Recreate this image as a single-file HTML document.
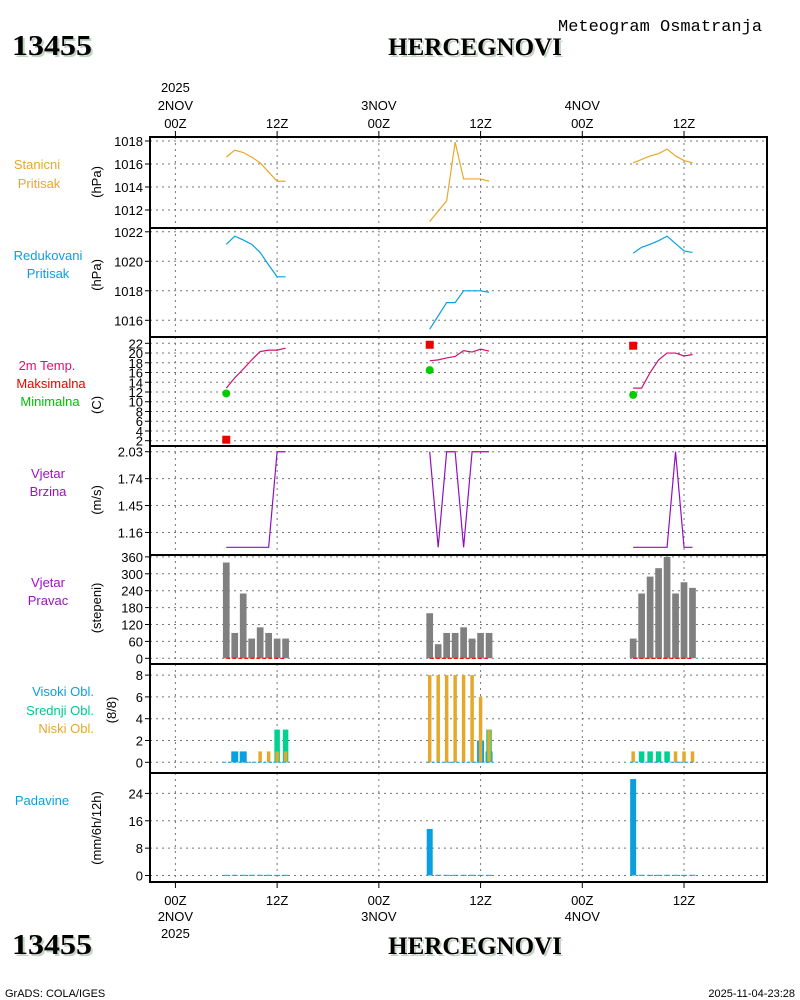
<!DOCTYPE html>
<html><head><meta charset="utf-8"><style>
html,body{margin:0;padding:0;background:#fff;}
svg{display:block;font-family:"Liberation Sans",sans-serif;}
.t{font-size:13px;fill:#000;}
</style></head><body>
<svg id="chart" width="800" height="1000" viewBox="0 0 800 1000">
<rect x="0" y="0" width="800" height="1000" fill="#fff"/>
<text x="558" y="31" font-size="17" style="font-family:'Liberation Mono',monospace">Meteogram Osmatranja</text>
<g font-family="Liberation Serif,serif" font-weight="bold" font-size="28">
<text x="14" y="57" fill="#c4d4c4" textLength="80" lengthAdjust="spacingAndGlyphs">13455</text><text x="12" y="55" fill="#000" textLength="80" lengthAdjust="spacingAndGlyphs">13455</text></g>
<g font-family="Liberation Serif,serif" font-weight="bold" font-size="25">
<text x="477" y="57" text-anchor="middle" fill="#c4d4c4">HERCEGNOVI</text><text x="475" y="55" text-anchor="middle" fill="#000">HERCEGNOVI</text></g>
<g font-family="Liberation Serif,serif" font-weight="bold" font-size="28">
<text x="14" y="956" fill="#c4d4c4" textLength="80" lengthAdjust="spacingAndGlyphs">13455</text><text x="12" y="954" fill="#000" textLength="80" lengthAdjust="spacingAndGlyphs">13455</text></g>
<g font-family="Liberation Serif,serif" font-weight="bold" font-size="25">
<text x="477" y="956" text-anchor="middle" fill="#c4d4c4">HERCEGNOVI</text><text x="475" y="954" text-anchor="middle" fill="#000">HERCEGNOVI</text></g>
<text x="5" y="997" font-size="11">GrADS: COLA/IGES</text>
<text x="795" y="997" font-size="11" text-anchor="end">2025-11-04-23:28</text>
<g id="layer"></g>
</svg>
<script>
// ---- data ----
const hoursG1 = [6,7,8,9,10,11,12,13];
const hoursG2 = [30,31,32,33,34,35,36,37];
const hoursG3 = [54,55,56,57,58,59,60,61];
const stationP1 = [1016.6,1017.2,1017.0,1016.6,1016.1,1015.3,1014.5,1014.5];
const stationP2 = [1011.0,1011.9,1012.8,1017.9,1014.7,1014.7,1014.7,1014.5];
const stationP3 = [1016.1,1016.4,1016.7,1016.9,1017.3,1016.7,1016.3,1016.1];
const seaP1 = [1021.15,1021.7,1021.45,1021.15,1020.6,1019.75,1018.95,1018.95];
const seaP2 = [1015.4,1016.3,1017.2,1017.2,1018.0,1018.0,1018.0,1017.9];
const seaP3 = [1020.55,1020.95,1021.15,1021.4,1021.7,1021.2,1020.7,1020.6];
const temp1 = [12.8,14.9,16.7,18.6,20.3,20.6,20.6,21.0];
const temp2 = [18.4,18.6,19.0,19.3,20.5,20.2,20.8,20.4];
const temp3 = [12.8,12.8,16.0,18.6,20.0,20.0,19.4,19.7];
const tmaxHours = [6,30,54];
const tmaxValues = [2.2,21.7,21.5];
const tminValues = [11.7,16.5,11.4];
const wspd1 = [1,1,1,1,1,1,2.03,2.03];
const wspd2 = [2.03,1,2.03,2.03,1,2.03,2.03,2.03];
const wspd3 = [1,1,1,1,1,2.03,1,1];
const wdir1 = [340,90,230,70,110,90,70,70];
const wdir2 = [160,50,90,90,110,70,90,90];
const wdir3 = [70,230,290,320,360,230,270,250];
const cloudHigh1 = [0,1,1,0,0,0,0,0];
const cloudMid1 = [0,0,0,0,0,0,3,3];
const cloudLow1 = [0,0,0,0,1,1,1,1];
const cloudHigh2 = [0,0,0,0,0,0,2,1];
const cloudMid2 = [0,0,0,0,0,0,0,3];
const cloudLow2 = [8,8,8,8,8,8,6,3];
const cloudHigh3 = [0,0,0,0,0,0,0,0];
const cloudMid3 = [0,1,1,1,1,0,0,0];
const cloudLow3 = [1,0,0,0,0,1,1,1];
const precip1 = [0.2,0.2,0.2,0.2,0.2,0.2,0.2,0.2];
const precip2 = [13.6,0.2,0.2,0.2,0.2,0.2,0.2,0.2];
const precip3 = [28.2,0.2,0.2,0.2,0.2,0.2,0.2,0.2];
const ticksP1 = [1012,1014,1016,1018];
const ticksP2 = [1016,1018,1020,1022];
const ticksT = [2,4,6,8,10,12,14,16,18,20,22];
const ticksW = [1.16,1.45,1.74,2.03];
const ticksD = [0,60,120,180,240,300,360];
const ticksC = [0,2,4,6,8];
const ticksR = [0,8,16,24];
const timeTicks = [0,12,24,36,48,60];
const timeLabels = ["00Z","12Z","00Z","12Z","00Z","12Z"];
const dayLabels = ["2NOV","","3NOV","","4NOV",""];

// ---- scales ----
const X0 = 150, X1 = 767;
function xs(t){ return 175.4 + t*8.477; }
const panels = [
 {top:137,bot:228,y:v=>141+(1018-v)*11.5},
 {top:228,bot:337,y:v=>261.3+(1020-v)*14.75},
 {top:337,bot:446,y:v=>343.3+(22-v)*4.87},
 {top:446,bot:555,y:v=>547.3-(v-1)*92.8},
 {top:555,bot:664,y:v=>658.3-v*0.2817},
 {top:664,bot:773,y:v=>762.3-v*10.9},
 {top:773,bot:882,y:v=>875.5-v*3.42}
];
const NS="http://www.w3.org/2000/svg";
const layer=document.getElementById('layer');
function mk(tag,attrs,parent){const e=document.createElementNS(NS,tag);for(const k in attrs)e.setAttribute(k,attrs[k]);(parent||layer).appendChild(e);return e;}

const tickSets=[ticksP1,ticksP2,ticksT,ticksW,ticksD,ticksC,ticksR];
const tickFmt=[v=>v,v=>v,v=>v,v=>v.toFixed(2),v=>v,v=>v,v=>v];
const names=['station-pressure','sea-level-pressure','temperature','wind-speed','wind-direction','cloud-cover','precipitation'];
panels.forEach((p,i)=>{
  const g=mk('g',{});
  
  
  p.g=g;
  timeTicks.forEach(t=>{
    const l=mk('line',{x1:xs(t),x2:xs(t),y1:p.top,y2:p.bot,stroke:'#777','stroke-dasharray':'2,4','stroke-width':1},g);
    
    
  });
  tickSets[i].forEach(v=>{
    const y=p.y(v);
    const l=mk('line',{x1:X0,x2:X1,y1:y,y2:y,stroke:'#777','stroke-dasharray':'2,4','stroke-width':1},g);
    
    
    mk('line',{x1:X0-5,x2:X0,y1:y,y2:y,stroke:'#000'},g);
    const tx=mk('text',{x:X0-7,y:y+5,'text-anchor':'end','class':'t'},g);
    tx.textContent=tickFmt[i](v);
    
    
  });
});
// time axis labels
timeTicks.forEach((t,i)=>{
  const x=xs(t);
  mk('line',{x1:x,x2:x,y1:131,y2:137,stroke:'#000'});
  mk('line',{x1:x,x2:x,y1:882,y2:888,stroke:'#000'});
  const a=mk('text',{x:x,y:128,'text-anchor':'middle','class':'t'});a.textContent=timeLabels[i];
  
  
  const b=mk('text',{x:x,y:905,'text-anchor':'middle','class':'t'});b.textContent=timeLabels[i];
  
  
  if(dayLabels[i]){
    const c=mk('text',{x:x,y:110,'text-anchor':'middle','class':'t'});c.textContent=dayLabels[i];
    
    
    const d=mk('text',{x:x,y:921,'text-anchor':'middle','class':'t'});d.textContent=dayLabels[i];
    
    
  }
});
const y1=mk('text',{x:xs(0),y:92,'text-anchor':'middle','class':'t'});y1.textContent='2025';


const y2=mk('text',{x:xs(0),y:938,'text-anchor':'middle','class':'t'});y2.textContent='2025';



// left labels
const leftLabels=[
 ['Stanicni',37,169,'#e6a82a','middle'],['Pritisak',39,188,'#e6a82a','middle'],
 ['Redukovani',48,260,'#0aa0e0','middle'],['Pritisak',48,278,'#0aa0e0','middle'],
 ['2m Temp.',47,370,'#e0106a','middle'],['Maksimalna',51,388,'#ee0000','middle'],['Minimalna',50,406,'#00c000','middle'],
 ['Vjetar',48,478,'#a010c0','middle'],['Brzina',48,496,'#a010c0','middle'],
 ['Vjetar',48,587,'#a010c0','middle'],['Pravac',48,605,'#a010c0','middle'],
 ['Visoki Obl.',94,696,'#0aa0e0','end'],['Srednji Obl.',94,715,'#00c890','end'],['Niski Obl.',94,733,'#e6a82a','end'],
 ['Padavine',42,805,'#0aa0e0','middle']];
leftLabels.forEach(l=>{
  const e=mk('text',{x:l[1],y:l[2],fill:l[3],'text-anchor':l[4],'font-size':13});e.textContent=l[0];
  
  
});
const units=[['(hPa)',182,101],['(hPa)',275,101],['(C)',405,101],['(m/s)',500,101],['(stepeni)',608,101],['(8/8)',710,116],['(mm/6h/12h)',828,101]];
units.forEach(u=>{
  const e=mk('text',{x:0,y:0,'text-anchor':'middle','font-size':13,transform:`translate(${u[2]},${u[1]}) rotate(-90)`});e.textContent=u[0];
  
  
});

// series
const groups=[hoursG1,hoursG2,hoursG3];
function line(pi,hrs,vals,color,name){
  const p=panels[pi];
  const pts=hrs.map((t,i)=>xs(t)+','+p.y(vals[i])).join(' ');
  const e=mk('polyline',{points:pts,fill:'none',stroke:color,'stroke-width':1.2},p.g);
  
  
}
function bars(pi,hrs,vals,color,w,name){
  const p=panels[pi];
  hrs.forEach((t,i)=>{
    if(vals[i]<=0)return;
    const y=p.y(vals[i]),yb=p.y(0);
    const e=mk('rect',{x:xs(t)-w/2,y:y,width:w,height:Math.max(yb-y,1),fill:color},p.g);
    
    
  });
}
[[stationP1,seaP1,temp1,wspd1,wdir1,cloudHigh1,cloudMid1,cloudLow1,precip1],
 [stationP2,seaP2,temp2,wspd2,wdir2,cloudHigh2,cloudMid2,cloudLow2,precip2],
 [stationP3,seaP3,temp3,wspd3,wdir3,cloudHigh3,cloudMid3,cloudLow3,precip3]].forEach((s,gi)=>{
  const h=groups[gi];
  line(0,h,s[0],'#e6a82a','station-pressure-line');
  line(1,h,s[1],'#0aa0e0','sea-level-pressure-line');
  line(2,h,s[2],'#d0106a','temperature-line');
  line(3,h,s[3],'#9010c0','wind-speed-line');
  bars(4,h,s[4],'#808080',6.7,'wind-direction-bar');
  const dl=mk('line',{x1:xs(h[0]),x2:xs(h[h.length-1]),y1:panels[4].y(0),y2:panels[4].y(0),stroke:'#ee0000','stroke-dasharray':'4,2','stroke-width':1.2},panels[4].g);
  
  
  bars(5,h,s[5],'#0aa0e0',7,'cloud-high-bar');
  bars(5,h,s[6],'#00d090',5.5,'cloud-mid-bar');
  bars(5,h,s[7],'#e6a82a',3.5,'cloud-low-bar');
  const cb=mk('line',{x1:xs(h[0])-3,x2:xs(h[h.length-1])+3,y1:panels[5].y(0),y2:panels[5].y(0),stroke:'#0aa0e0','stroke-dasharray':'3,2','stroke-width':1},panels[5].g);
  
  
  bars(6,h,s[8],'#0aa0e0',6,'precipitation-bar');
});
tmaxHours.forEach((t,i)=>{
  const p=panels[2];
  const r=mk('rect',{x:xs(t)-4,y:p.y(tmaxValues[i])-4,width:8,height:8,fill:'#ee0000'},p.g);
  
  
  const c=mk('circle',{cx:xs(t),cy:p.y(tminValues[i]),r:4,fill:'#00cc00'},p.g);
  
  
});
// borders
panels.forEach((p,i)=>{
  const r=mk('rect',{x:X0,y:p.top,width:X1-X0,height:p.bot-p.top,fill:'none',stroke:'#000','stroke-width':2});
  
  
});
</script>
</body></html>
